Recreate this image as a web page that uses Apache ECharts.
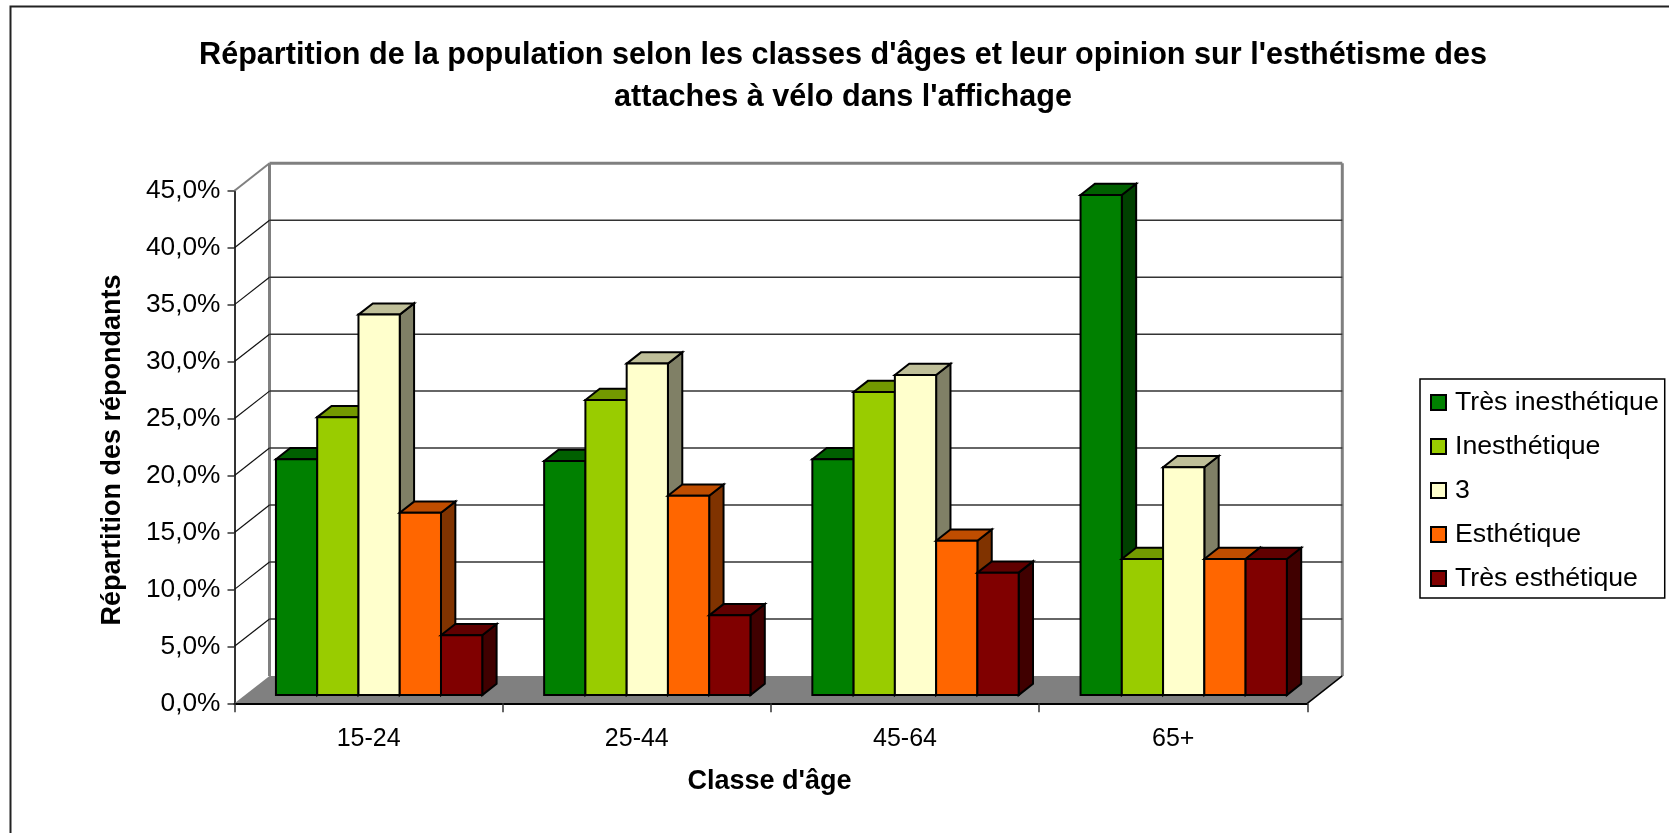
<!DOCTYPE html>
<html><head><meta charset="utf-8">
<script src="https://cdn.jsdelivr.net/npm/echarts@6/dist/echarts.min.js"></script>
<style>html,body{margin:0;padding:0;background:#fff}#c{width:1669px;height:833px}</style>
</head><body><div id="c"></div>
<script>
const titleText = "Répartition de la population selon les classes d'âges et leur opinion sur l'esthétisme des\nattaches à vélo dans l'affichage";
const yAxisName = "Répartition des répondants";
const xAxisName = "Classe d'âge";
const categories = ["15-24","25-44","45-64","65+"];
const tresInesthetique = [20.7,20.55,20.7,43.9];
const inesthetique = [24.4,25.9,26.6,11.95];
const trois = [33.4,29.1,28.1,20.0];
const esthetique = [16.0,17.5,13.55,11.95];
const tresEsthetique = [5.25,7.0,10.75,11.95];
const yTicks = [0,5,10,15,20,25,30,35,40,45];

const seriesDefs = [
  {name:"Très inesthétique", values:tresInesthetique, front:"#008000", top:"#006000", side:"#004000"},
  {name:"Inesthétique", values:inesthetique, front:"#99CC00", top:"#739900", side:"#4D6600"},
  {name:"3", values:trois, front:"#FFFFCC", top:"#BFBF99", side:"#808066"},
  {name:"Esthétique", values:esthetique, front:"#FF6600", top:"#BF4D00", side:"#803300"},
  {name:"Très esthétique", values:tresEsthetique, front:"#800000", top:"#600000", side:"#400000"}
];

const DX = 35, DY = 27.4;
const FRONT = 0.30, DEPTH = 0.41, GAP = 1.5, N = seriesDefs.length;
const sk = {stroke:"#000", lineWidth:2, lineJoin:"miter"};

function wallItem(params, api){
  const v = api.value(0);
  const band = api.size([1,0])[0];
  const p0 = api.coord([0, v]);
  const xL = p0[0] - band/2, xR = xL + band*categories.length, y = p0[1];
  const children = [];
  if (v === 0) {
    children.push({type:"polygon", shape:{points:[[xL,y],[xR,y],[xR+DX,y-DY],[xL+DX,y-DY]]}, style:{fill:"#808080", stroke:null}});
    const top = api.coord([0,45])[1];
    children.push({type:"line", shape:{x1:xL+DX,y1:y-DY,x2:xL+DX,y2:top-DY}, style:{stroke:"#808080",lineWidth:3}});
    children.push({type:"line", shape:{x1:xR+DX,y1:y-DY,x2:xR+DX,y2:top-DY}, style:{stroke:"#808080",lineWidth:3}});
    children.push({type:"line", shape:{x1:xR,y1:y,x2:xR+DX,y2:y-DY}, style:{stroke:"#000",lineWidth:1.5}});
  } else if (v === 45) {
    children.push({type:"line", shape:{x1:xL,y1:y,x2:xL+DX,y2:y-DY}, style:{stroke:"#808080",lineWidth:2}});
    children.push({type:"line", shape:{x1:xL+DX,y1:y-DY,x2:xR+DX,y2:y-DY}, style:{stroke:"#808080",lineWidth:3}});
  } else {
    children.push({type:"line", shape:{x1:xL,y1:y,x2:xL+DX,y2:y-DY}, style:{stroke:"#111",lineWidth:1.2}});
    children.push({type:"line", shape:{x1:xL+DX,y1:y-DY,x2:xR+DX,y2:y-DY}, style:{stroke:"#333",lineWidth:1.5}});
  }
  return {type:"group", children};
}

function barRenderer(j, def){
  return function(params, api){
    const cat = api.value(0), val = api.value(1);
    const band = api.size([1,0])[0], bw = band/(N+GAP);
    const c = api.coord([cat,val]), b = api.coord([cat,0]);
    const sx = DX*FRONT, sy = DY*FRONT, dx = DX*DEPTH, dy = DY*DEPTH;
    const x0 = c[0] + (j-N/2)*bw + sx, x1 = x0 + bw;
    const yT = c[1] - sy, yB = b[1] - sy;
    return {type:"group", children:[
      {type:"polygon", shape:{points:[[x1,yT],[x1+dx,yT-dy],[x1+dx,yB-dy],[x1,yB]]}, style:{fill:def.side, ...sk}},
      {type:"polygon", shape:{points:[[x0,yT],[x0+dx,yT-dy],[x1+dx,yT-dy],[x1,yT]]}, style:{fill:def.top, ...sk}},
      {type:"rect", shape:{x:x0,y:yT,width:bw,height:yB-yT}, style:{fill:def.front, ...sk}}
    ]};
  };
}

const chart = echarts.init(document.getElementById("c"), null, {renderer:"canvas"});
chart.setOption({
  animation:false,
  backgroundColor:"#fff",
  textStyle:{fontFamily:"Liberation Sans"},
  title:{text:titleText, left:838, top:30, textAlign:"center",
    textStyle:{fontFamily:"Liberation Sans",fontSize:30.6,fontWeight:"bold",color:"#000",lineHeight:41.5}},
  graphic:[{type:"polyline", z:-10, shape:{points:[[10.5,833],[10.5,6.5],[1669,6.5]]}, style:{fill:null,stroke:"#222",lineWidth:2}}],
  legend:{
    left:1420, top:379, orient:"vertical", padding:[10,6,6,10], itemGap:17,
    itemWidth:15, itemHeight:15, icon:"rect",
    borderColor:"#000", borderWidth:1.5, backgroundColor:"#fff",
    itemStyle:{borderColor:"#000",borderWidth:2},
    textStyle:{fontFamily:"Liberation Sans",fontSize:26.7,color:"#000",padding:[0,0,0,4]},
    data:seriesDefs.map(d=>d.name)
  },
  grid:{left:234.5, top:190.7, width:1072.8, height:512.6, containLabel:false},
  xAxis:{type:"category", data:categories, name:xAxisName, nameLocation:"middle", nameGap:65,
    nameTextStyle:{fontFamily:"Liberation Sans",fontWeight:"bold",fontSize:27,color:"#000",padding:[0,3,0,0]},
    axisLine:{lineStyle:{color:"#000",width:2}}, axisTick:{show:true,alignWithLabel:false,length:9,lineStyle:{color:"#333",width:1.5}},
    axisLabel:{fontFamily:"Liberation Sans",fontSize:25,color:"#000",margin:23}, splitLine:{show:false}, z:5},
  yAxis:{type:"value", min:0, max:45, interval:5, name:yAxisName, nameLocation:"middle", nameGap:108,
    nameTextStyle:{fontFamily:"Liberation Sans",fontWeight:"bold",fontSize:27,color:"#000",padding:[0,6,0,0]},
    axisLine:{show:true,lineStyle:{color:"#333",width:2}}, axisTick:{show:true,length:7,lineStyle:{color:"#333",width:1.5}},
    axisLabel:{fontFamily:"Liberation Sans",fontSize:26.3,color:"#000",margin:14,padding:[2,0,0,0],formatter:v=>v.toFixed(1).replace(".",",")+"%"},
    splitLine:{show:false}},
  series:[
    {type:"custom", name:"_murs", coordinateSystem:"cartesian2d", clip:false, z:1, silent:true,
      encode:{x:1,y:0}, data:yTicks.map(v=>[v,0]), renderItem:wallItem},
    ...seriesDefs.map((d,j)=>({
      type:"custom", name:d.name, coordinateSystem:"cartesian2d", clip:false, z:10,
      itemStyle:{color:d.front}, encode:{x:0,y:1},
      data:d.values.map((v,i)=>[i,v]), renderItem:barRenderer(j,d)
    }))
  ]
});
</script></body></html>
